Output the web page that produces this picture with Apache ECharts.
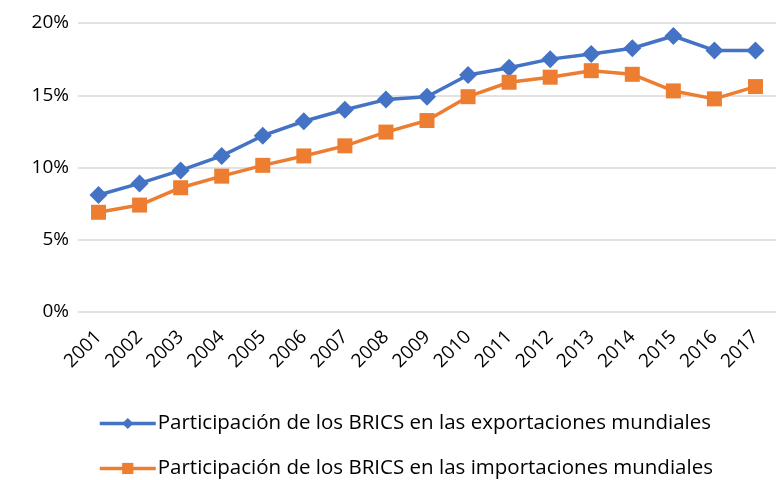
<!DOCTYPE html>
<html>
<head>
<meta charset="utf-8">
<script src="https://cdn.jsdelivr.net/npm/echarts@6/dist/echarts.min.js"></script>
<style>
  html, body { margin: 0; padding: 0; background: #fff; }
  #box { width: 776px; height: 480px; }
</style>
</head>
<body>
<div id="box"></div>
<script>
// años
var years = ['2001', '2002', '2003', '2004', '2005', '2006', '2007', '2008', '2009',
  '2010', '2011', '2012', '2013', '2014', '2015', '2016', '2017'];
// participación en exportaciones (%)
var exportaciones = [8.1, 8.9, 9.8, 10.8, 12.2, 13.2, 14.0, 14.7, 14.9,
  16.4, 16.9, 17.5, 17.85, 18.25, 19.1, 18.1, 18.1];
// participación en importaciones (%)
var importaciones = [6.9, 7.4, 8.6, 9.4, 10.15, 10.8, 11.5, 12.45, 13.25,
  14.9, 15.9, 16.25, 16.7, 16.45, 15.3, 14.75, 15.6];
var yTicks = [0, 5, 10, 15, 20];

var nameExp = 'Participación de los BRICS en las exportaciones mundiales';
var nameImp = 'Participación de los BRICS en las importaciones mundiales';

var chart = echarts.init(document.getElementById('box'));
var font = '"Open Sans", Lato, sans-serif';

var option = {
  animation: false,
  textStyle: { fontFamily: font },
  grid: { left: 78, right: -13, top: 23, bottom: 168, containLabel: false },
  legend: {
    orient: 'vertical',
    left: 98,
    top: 413,
    padding: 0,
    itemWidth: 56,
    itemHeight: 14,
    itemGap: 24,
    lineStyle: { width: 3.5 },
    textStyle: { fontSize: 20.5, color: '#000', fontFamily: font, padding: [0, 0, 0, -3] },
    data: [nameExp, nameImp]
  },
  xAxis: {
    type: 'category',
    data: years,
    boundaryGap: true,
    axisLine: { show: false },
    axisTick: { show: false },
    axisLabel: { rotate: 45, fontSize: 19, color: '#000', margin: 22, fontFamily: font }
  },
  yAxis: {
    type: 'value',
    min: yTicks[0],
    max: yTicks[yTicks.length - 1],
    interval: 5,
    axisLine: { show: false },
    axisTick: { show: false },
    axisLabel: { fontSize: 19, color: '#000', margin: 9, formatter: '{value}%', fontFamily: font },
    splitLine: { lineStyle: { color: '#d9d9d9', width: 1.5 } }
  },
  series: [
    {
      name: nameExp,
      type: 'line',
      data: exportaciones,
      symbol: 'diamond',
      symbolSize: 18,
      lineStyle: { color: '#4472c4', width: 3.5 },
      itemStyle: { color: '#4472c4' }
    },
    {
      name: nameImp,
      type: 'line',
      data: importaciones,
      symbol: 'rect',
      symbolSize: 15,
      lineStyle: { color: '#ed7d31', width: 3.5 },
      itemStyle: { color: '#ed7d31' }
    }
  ]
};

chart.setOption(option);
</script>
</body>
</html>
